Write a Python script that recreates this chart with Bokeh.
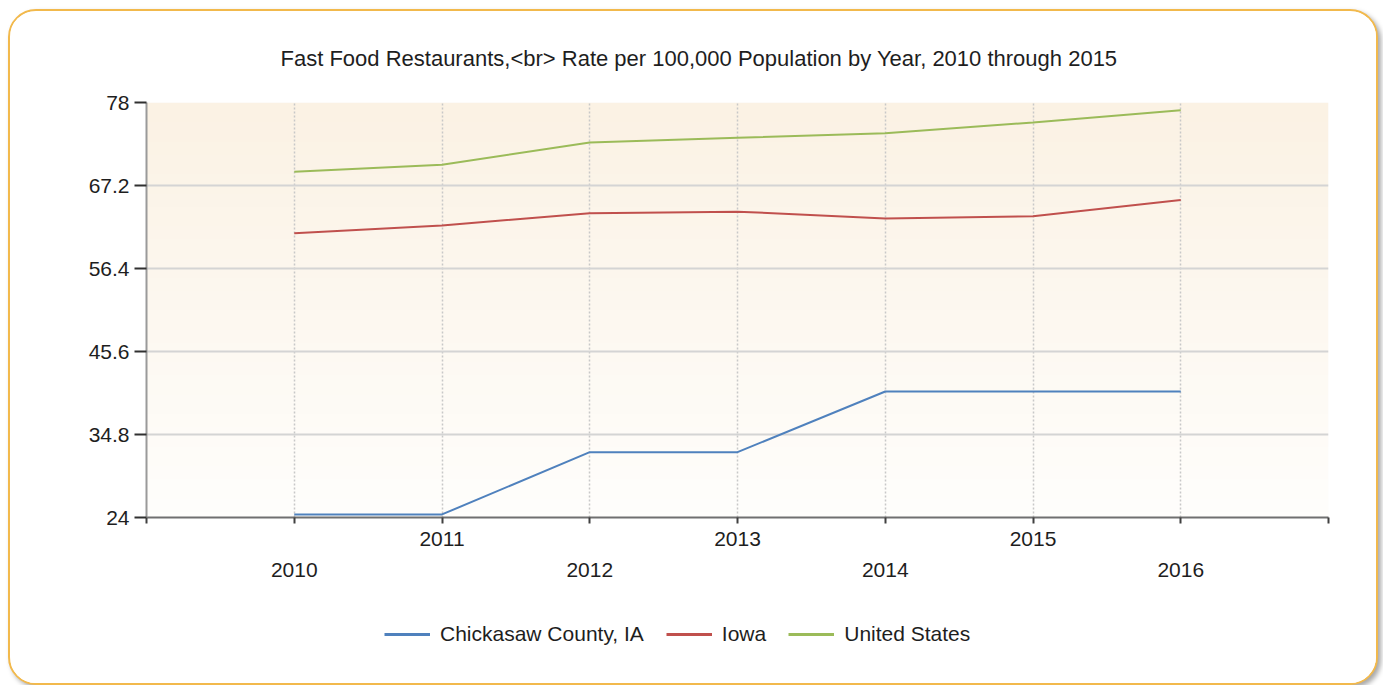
import numpy as np
from bokeh.plotting import figure
from bokeh.layouts import column
from bokeh.models import (Range1d, FixedTicker, LinearAxis, Legend, LegendItem,
                          CustomJSTickFormatter, Title)
from bokeh.embed import file_html
from bokeh.resources import INLINE

# ---- data ----
years = [2010, 2011, 2012, 2013, 2014, 2015, 2016]
chickasaw = [24.4, 24.4, 32.5, 32.5, 40.4, 40.4, 40.4]
iowa = [61.0, 62.0, 63.6, 63.8, 62.9, 63.2, 65.3]
united_states = [69.0, 69.9, 72.8, 73.4, 74.0, 75.4, 77.0]
series_names = ["Chickasaw County, IA", "Iowa", "United States"]
y_ticks = [24, 34.8, 45.6, 56.4, 67.2, 78]
title_text = "Fast Food Restaurants,<br> Rate per 100,000 Population by Year, 2010 through 2015"

colors = ["#4f81bd", "#c0504d", "#9bbb59"]
FONT = "Liberation Sans"
FS = "21px"
TXT = "#1e1e1e"
series = [chickasaw, iowa, united_states]

x_start, x_end = years[0] - 1, years[-1] + 1
y_start, y_end = y_ticks[0], y_ticks[-1]

p = figure(frame_width=1182, frame_height=415, output_backend="svg", toolbar_location=None,
           x_range=Range1d(x_start, x_end), y_range=Range1d(y_start, y_end),
           min_border_left=136, min_border_right=48, min_border_top=90, min_border_bottom=80,
           background_fill_color="white", border_fill_color="white",
           outline_line_color=None)

p.title = Title(text=title_text, align="left", text_font=FONT, text_font_size="22px",
                text_font_style="normal", text_color=TXT, offset=134, standoff=64)

# gradient plot background
n = 64
t = np.linspace(0, 1, n)[:, None, None]
top = np.array([251, 242, 228]); bot = np.array([255, 254, 252])
cols = (bot + (top - bot) * t).astype(np.uint32)
img = ((255 << 24) | (cols[..., 2] << 16) | (cols[..., 1] << 8) | cols[..., 0]).astype(np.uint32)
img = np.ascontiguousarray(np.repeat(img, 2, axis=1))
p.image_rgba(image=[img], x=x_start, y=y_start, dw=x_end - x_start, dh=y_end - y_start,
             level="image")

# axes
xticks = list(range(x_start, x_end + 1))
upper = {y: str(y) for y in years[1::2]}
lower = {y: str(y) for y in years[0::2]}
xa = p.xaxis[0]
xa.ticker = FixedTicker(ticks=xticks)
xa.major_label_overrides = {y: upper.get(y, "") for y in xticks}
xa.axis_line_color = "#707070"; xa.axis_line_width = 2
xa.major_tick_line_color = "#404040"; xa.major_tick_line_width = 2
xa.major_tick_out = 6; xa.major_tick_in = 0
xa.minor_tick_line_color = None
xa.major_label_text_font = FONT; xa.major_label_text_font_size = FS
xa.major_label_text_color = TXT; xa.major_label_standoff = 8

xa2 = LinearAxis(ticker=FixedTicker(ticks=years[0::2]),
                 major_label_overrides={y: lower[y] for y in years[0::2]})
xa2.axis_line_color = None; xa2.major_tick_line_color = None; xa2.minor_tick_line_color = None
xa2.major_label_text_font = FONT; xa2.major_label_text_font_size = FS
xa2.major_label_text_color = TXT; xa2.major_label_standoff = 8
p.add_layout(xa2, "below")

ya = p.yaxis[0]
ya.ticker = FixedTicker(ticks=y_ticks)
ya.formatter = CustomJSTickFormatter(code="return String(Math.round(tick*10)/10);")
ya.axis_line_color = "#9a9a9a"; ya.axis_line_width = 2
ya.major_tick_line_color = "#303030"; ya.major_tick_line_width = 2
ya.major_tick_out = 12; ya.major_tick_in = 0
ya.minor_tick_line_color = None
ya.major_label_text_font = FONT; ya.major_label_text_font_size = FS
ya.major_label_text_color = TXT; ya.major_label_standoff = 5

# grid
p.xgrid.ticker = FixedTicker(ticks=xticks)
p.xgrid.grid_line_color = "#c8c8c8"; p.xgrid.grid_line_dash = "2 2"; p.xgrid.grid_line_width = 1.5
p.ygrid.ticker = FixedTicker(ticks=y_ticks)
p.ygrid.grid_line_color = "#d4d4d4"; p.ygrid.grid_line_width = 2

# lines
for vals, c in zip(series, colors):
    p.line(years, vals, line_color=c, line_width=2)

# ---- legend strip (separate figure below the chart) ----
leg = figure(width=1366, height=86, output_backend="svg", toolbar_location=None,
             x_axis_type=None, y_axis_type=None, min_border=0,
             x_range=Range1d(x_start, x_end), y_range=Range1d(y_start, y_end),
             background_fill_color="white", border_fill_color="white", outline_line_color=None)
leg.grid.visible = False
leg_renderers = [leg.line(years, vals, line_color=c, line_width=3, visible=False)
                 for vals, c in zip(series, colors)]
legend = Legend(items=[LegendItem(label=n_, renderers=[r]) for n_, r in zip(series_names, leg_renderers)],
                orientation="horizontal", location=(238, 37),
                label_text_font=FONT, label_text_font_size=FS, label_text_color=TXT,
                glyph_width=46, glyph_height=20, spacing=22, label_standoff=10,
                border_line_color=None, background_fill_alpha=0, padding=4, margin=0)
leg.add_layout(legend, "center")

layout = column(p, leg, spacing=0)
layout.styles = {"border": "2px solid #f2b94c", "border-radius": "28px", "overflow": "hidden",
                 "box-shadow": "3px 3px 5px rgba(0,0,0,0.35)", "background": "white",
                 "margin-left": "8px", "margin-top": "9px"}

open("out.html", "w").write(file_html(layout, INLINE))
